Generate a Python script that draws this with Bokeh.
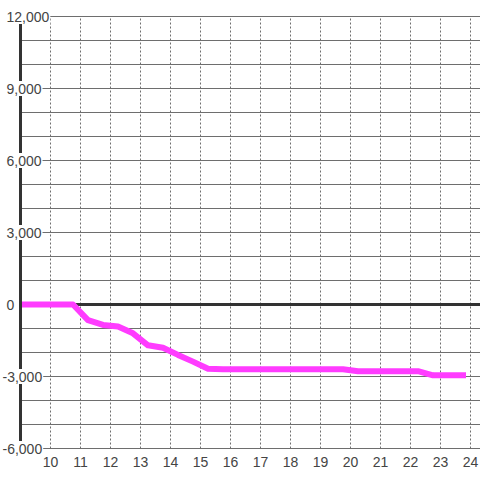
from bokeh.plotting import figure
from bokeh.models import Range1d
from bokeh.core.properties import value
from bokeh.embed import file_html
from bokeh.resources import INLINE

# ---- data ----
hours = [9.0, 9.25, 9.75, 10.25, 10.75, 11.25, 11.75, 12.25, 12.75, 13.25,
         13.75, 14.25, 14.75, 15.25, 15.75, 16.25, 16.75, 17.25, 17.75,
         18.25, 18.75, 19.25, 19.75, 20.25, 20.75, 21.25, 21.75, 22.25,
         22.75, 23.25, 23.85]
values = [0, 0, 0, 0, 0, -650, -850, -920, -1200, -1700,
          -1800, -2100, -2380, -2680, -2700, -2700, -2700, -2700, -2700,
          -2700, -2700, -2700, -2700, -2780, -2780, -2780, -2780, -2780,
          -2950, -2950, -2950]

x_ticks = [10, 11, 12, 13, 14, 15, 16, 17, 18, 19, 20, 21, 22, 23, 24]
x_tick_labels = ["10", "11", "12", "13", "14", "15", "16", "17", "18", "19",
                 "20", "21", "22", "23", "24"]
y_label_values = [12000, 9000, 6000, 3000, 0, -3000, -6000]
y_label_texts = ["12,000", "9,000", "6,000", "3,000", "0", "-3,000", "-6,000"]
y_grid_values = [-6000, -5000, -4000, -3000, -2000, -1000, 0, 1000, 2000,
                 3000, 4000, 5000, 6000, 7000, 8000, 9000, 10000, 11000, 12000]

FONT = "Liberation Sans"
FONT_PX = 14
TEXT = "#444444"
GRID = "#6e6e6e"
DARK = "#333333"

# axis geometry (value space)
X_AXIS = 9.0
Y_MIN, Y_MAX = -6000, 12000
W, H = 480, 480
px_x = 30.0                         # px per hour
px_y = 432.0 / (Y_MAX - Y_MIN)      # px per unit
x_start = X_AXIS - 20 / px_x
x_end = x_start + W / px_x
y_top = Y_MAX + 16 / px_y
y_bottom = y_top - H / px_y

p = figure(width=W, height=H, output_backend="svg", toolbar_location=None,
           x_range=Range1d(x_start, x_end), y_range=Range1d(y_bottom, y_top),
           x_axis_location=None, y_axis_location=None,
           min_border_left=0, min_border_right=0,
           min_border_top=0, min_border_bottom=0)
p.outline_line_color = None
p.background_fill_color = "white"
p.border_fill_color = "white"
p.xgrid.visible = False
p.ygrid.visible = False

# horizontal grid lines
p.segment(x0=X_AXIS, x1=x_end, y0=y_grid_values, y1=y_grid_values,
          line_color=GRID, line_width=1)
# vertical dotted grid lines
p.segment(x0=x_ticks, x1=x_ticks, y0=Y_MIN, y1=Y_MAX,
          line_color=GRID, line_width=1, line_dash="2 2")
# zero line
p.segment(x0=X_AXIS, x1=x_end, y0=0, y1=0, line_color=DARK, line_width=3)

# data line
p.line(hours, values, line_color="#ff3cff", line_width=6, line_join="round")

# vertical axis line
p.segment(x0=X_AXIS, x1=X_AXIS, y0=Y_MIN, y1=Y_MAX, line_color=DARK,
          line_width=3)

# y tick labels (left aligned, white box behind)
def text_px(s):
    w = {",": 0.278, "-": 0.333}
    return sum(w.get(c, 0.556) for c in s) * FONT_PX

label_x = [x_start + (2 if v < 0 else 6) / px_x for v in y_label_values]
p.quad(left=[lx - 1 / px_x for lx in label_x],
       right=[lx + (text_px(t) + 1) / px_x for lx, t in zip(label_x, y_label_texts)],
       bottom=[v - 7.5 / px_y for v in y_label_values],
       top=[v + 7.5 / px_y for v in y_label_values],
       fill_color="white", line_color=None)
p.text(x=label_x, y=y_label_values, text=y_label_texts,
       text_align="left", text_baseline="middle",
       text_font=value(FONT), text_font_size=value(f"{FONT_PX}px"),
       text_color=TEXT)

# x tick labels
p.text(x=x_ticks, y=Y_MIN - 13 / px_y, text=x_tick_labels,
       text_align="center", text_baseline="middle",
       text_font=value(FONT), text_font_size=value(f"{FONT_PX}px"),
       text_color=TEXT)

open("out.html", "w").write(file_html(p, INLINE))
